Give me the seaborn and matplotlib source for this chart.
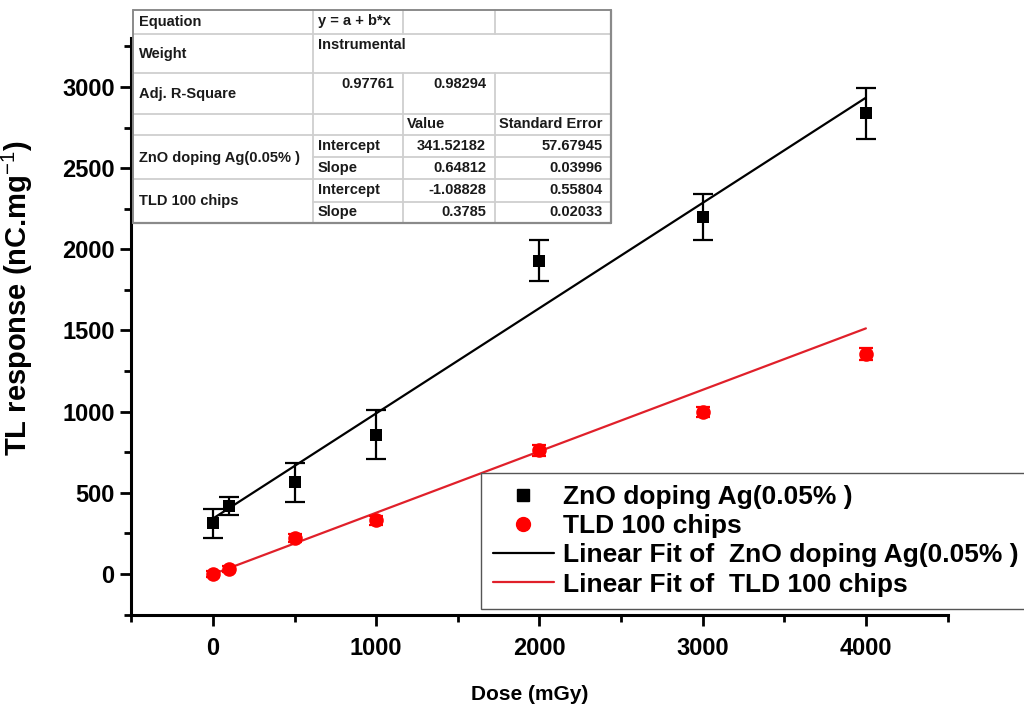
import matplotlib
matplotlib.use("Agg")
import matplotlib.pyplot as plt
from matplotlib.lines import Line2D
from matplotlib.patches import Rectangle
from matplotlib.ticker import MultipleLocator
import numpy as np
import pandas as pd
import seaborn as sns

# Measured TL response vs. dose
dose = [0, 100, 500, 1000, 2000, 3000, 4000]
zno_resp = [312, 419, 564, 858, 1930, 2198, 2838]
zno_err = [90, 58, 118, 152, 125, 143, 158]
tld_resp = [0, 32, 222, 330, 762, 996, 1357]
tld_err = [20, 20, 25, 28, 35, 32, 38]

series_names = ["ZnO doping Ag(0.05% )", "TLD 100 chips"]

# Linear fit results (y = a + b*x)
adj_r2 = [0.97761, 0.98294]
intercepts = [341.52182, -1.08828]
intercept_se = [57.67945, 0.55804]
slopes = [0.64812, 0.3785]
slope_se = [0.03996, 0.02033]
fit_range = [0, 4000]

sns.set_theme(style="ticks")
plt.rcParams["font.family"] = ["Liberation Sans", "DejaVu Sans"]
plt.rcParams["mathtext.fontset"] = "custom"
plt.rcParams["mathtext.rm"] = "Liberation Sans"
plt.rcParams["mathtext.bf"] = "Liberation Sans:bold"
for key in ("text.color", "axes.labelcolor", "xtick.color", "ytick.color",
            "xtick.labelcolor", "ytick.labelcolor"):
    plt.rcParams[key] = "black"

W, H = 1024, 709
fig = plt.figure(figsize=(W / 100, H / 100), dpi=100)
ax = fig.add_axes([0.1283, 0.1332, 0.797, 0.8128])

black = "#000000"
red = "#ff0000"
red_line = "#e0202a"

pts = pd.DataFrame({"dose": dose * 2,
                    "resp": zno_resp + tld_resp,
                    "series": [series_names[0]] * len(dose) + [series_names[1]] * len(dose)})

# error bars
ax.errorbar(dose, zno_resp, yerr=zno_err, fmt="none", ecolor=black,
            elinewidth=1.6, capsize=7, capthick=1.6, zorder=3)
ax.errorbar(dose, tld_resp, yerr=tld_err, fmt="none", ecolor=red,
            elinewidth=1.6, capsize=5, capthick=1.6, zorder=3)

# data points
sns.scatterplot(data=pts[pts.series == series_names[0]], x="dose", y="resp",
                marker="s", s=80, color=black, edgecolor=black, linewidth=0,
                ax=ax, label=series_names[0], zorder=4)
sns.scatterplot(data=pts[pts.series == series_names[1]], x="dose", y="resp",
                marker="o", s=110, color=red, edgecolor=red, linewidth=0,
                ax=ax, label=series_names[1], zorder=4)

# fitted lines
xf = np.array(fit_range, dtype=float)
fits = pd.DataFrame({"dose": np.concatenate([xf, xf]),
                     "resp": np.concatenate([intercepts[0] + slopes[0] * xf,
                                             intercepts[1] + slopes[1] * xf]),
                     "series": ["Linear Fit of  " + series_names[0]] * 2 +
                               ["Linear Fit of  " + series_names[1]] * 2})
sns.lineplot(data=fits, x="dose", y="resp", hue="series",
             palette=[black, red_line], linewidth=1.6, ax=ax, zorder=2,
             legend=False)

ax.set_xlim(-500, 4500)
ax.set_ylim(-250, 3300)
ax.xaxis.set_major_locator(MultipleLocator(1000))
ax.xaxis.set_minor_locator(MultipleLocator(500))
ax.yaxis.set_major_locator(MultipleLocator(500))
ax.yaxis.set_minor_locator(MultipleLocator(250))

for side in ("top", "right"):
    ax.spines[side].set_visible(False)
for side in ("left", "bottom"):
    ax.spines[side].set_linewidth(2.2)
    ax.spines[side].set_color(black)

ax.tick_params(which="major", direction="out", length=8, width=2.0,
               color=black, labelcolor=black, labelsize=17, pad=4)
ax.tick_params(axis="x", which="major", pad=8)
ax.tick_params(which="minor", direction="out", length=5, width=2.0, color=black)
for lab in ax.get_xticklabels() + ax.get_yticklabels():
    lab.set_fontweight("bold")

ax.set_xlabel("Dose (mGy)", fontsize=15, fontweight="bold", color=black)
ax.set_ylabel("TL response (nC.mg$^{\\mathrm{-1}}$)", fontsize=21, fontweight="bold",
              color=black)
ax.xaxis.set_label_coords(0.488, -0.122)
ax.yaxis.set_label_coords(-0.118, 0.55)

# legend
handles = [
    Line2D([], [], marker="s", color=black, linestyle="none", markersize=8),
    Line2D([], [], marker="o", color=red, linestyle="none", markersize=10),
    Line2D([], [], color=black, linewidth=1.6),
    Line2D([], [], color=red_line, linewidth=1.6),
]
labels = [series_names[0], series_names[1],
          "Linear Fit of  " + series_names[0], "Linear Fit of  " + series_names[1]]
leg = ax.legend(handles, labels, loc="upper left",
                bbox_to_anchor=(481 / W, 1 - 473 / H), bbox_transform=fig.transFigure,
                borderaxespad=0, frameon=True, fancybox=False, edgecolor="#555555",
                framealpha=1, prop={"size": 19, "weight": "bold"},
                handlelength=2.3, handletextpad=0.35, labelspacing=0.2,
                borderpad=0.45)
leg.get_frame().set_linewidth(1.0)
for t in leg.get_texts():
    t.set_color(black)


# fit summary table drawn in figure pixels
def fx(px):
    return px / W


def fy(py):
    return 1 - py / H


cols = [133, 313, 403, 495, 611]
rows = [10, 34, 73, 114, 135, 157, 179, 202, 223]
grid = "#cfcfcf"

fig.add_artist(Rectangle((fx(cols[0]), fy(rows[-1])), fx(cols[-1]) - fx(cols[0]),
                         fy(rows[0]) - fy(rows[-1]), transform=fig.transFigure,
                         facecolor="white", edgecolor="none", zorder=10))


def hline(y, x0, x1, color=grid, lw=1.3):
    fig.add_artist(Line2D([fx(x0), fx(x1)], [fy(y), fy(y)], transform=fig.transFigure,
                          color=color, linewidth=lw, zorder=11))


def vline(x, y0, y1, color=grid, lw=1.3):
    fig.add_artist(Line2D([fx(x), fx(x)], [fy(y0), fy(y1)], transform=fig.transFigure,
                          color=color, linewidth=lw, zorder=11))


for y in (34, 73, 114, 135, 179):
    hline(y, cols[0], cols[-1])
for y in (157, 202):
    hline(y, cols[1], cols[-1])
vline(cols[1], rows[0], rows[-1])
for x in (cols[2], cols[3]):
    vline(x, 10, 34)
    vline(x, 73, 223)
# outer border
border = "#8a8a8a"
hline(rows[0], cols[0], cols[-1], border, 1.4)
hline(rows[-1], cols[0], cols[-1], border, 1.6)
vline(cols[0], rows[0], rows[-1], border, 1.4)
vline(cols[-1], rows[0], rows[-1], border, 1.6)

tkw = dict(fontsize=10.5, fontweight="bold", color="#1a1a1a", zorder=12,
           transform=fig.transFigure, va="center")


def cell(x, y, s, ha="left"):
    fig.text(fx(x), fy(y), s, ha=ha, **tkw)


cell(139, 22, "Equation")
cell(318, 21, "y = a + b*x")
cell(139, 54, "Weight")
cell(318, 45, "Instrumental")
cell(139, 94, "Adj. R-Square")
cell(394, 84, str(adj_r2[0]), "right")
cell(486, 84, str(adj_r2[1]), "right")
cell(407, 124, "Value")
cell(499, 124, "Standard Error")
row_y = [(158, 146, 168), (201, 190, 212)]
for i, (yname, yint, yslope) in enumerate(row_y):
    cell(139, yname, series_names[i])
    cell(318, yint, "Intercept")
    cell(486, yint, str(intercepts[i]), "right")
    cell(603, yint, str(intercept_se[i]), "right")
    cell(318, yslope, "Slope")
    cell(486, yslope, str(slopes[i]), "right")
    cell(603, yslope, str(slope_se[i]), "right")

fig.savefig("out.png", dpi=100)
